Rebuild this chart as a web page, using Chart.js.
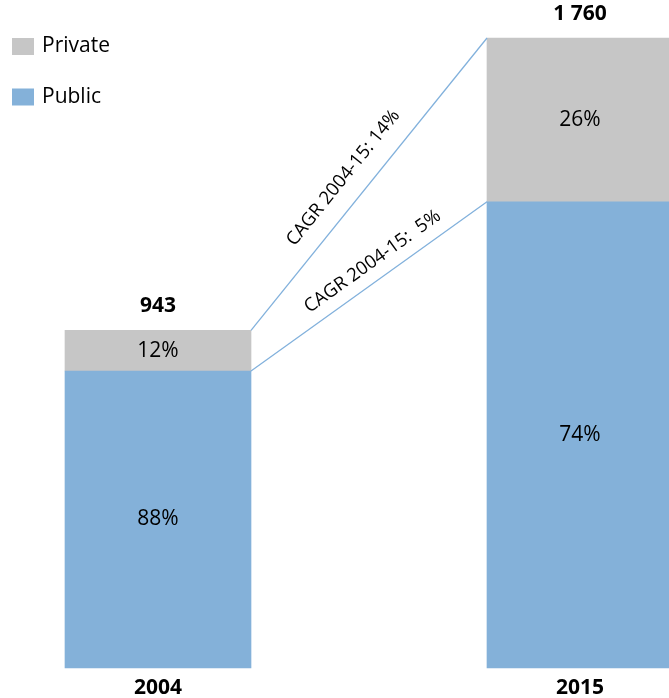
<!DOCTYPE html>
<html>
<head>
<meta charset="utf-8">
<title>Public and private spending, 2004 and 2015</title>
<script src="https://cdn.jsdelivr.net/npm/chart.js@4"></script>
<style>
  html, body { margin: 0; padding: 0; background: #ffffff; }
  #wrap { width: 669px; height: 698px; position: relative; }
</style>
</head>
<body>
<div id="wrap"><canvas id="chart"></canvas></div>
<script>
// Categories and series
const years = ['2004', '2015'];
const publicValues = [829.8, 1302.4];
const privateValues = [113.2, 457.6];
const seriesNames = ['Public', 'Private'];
// Growth annotations: first along the private tops, second along the public tops
const cagrLabels = ['CAGR 2004-15: 14%', 'CAGR 2004-15:  5%'];

const FONT = '"Open Sans", "Noto Sans", "DejaVu Sans", sans-serif';
const BLUE = '#84b1d9';
const GREY = '#c6c6c6';
const LINE = '#82b1dc';

function groupThousands(n) {
  return String(Math.round(n)).replace(/\B(?=(\d{3})+(?!\d))/g, ' ');
}

const overlay = {
  id: 'overlay',
  afterDatasetsDraw(chart) {
    const ctx = chart.ctx;
    const pub = chart.getDatasetMeta(0).data;
    const pri = chart.getDatasetMeta(1).data;
    const pubData = chart.data.datasets[0].data;
    const priData = chart.data.datasets[1].data;

    ctx.save();
    ctx.textAlign = 'center';
    ctx.textBaseline = 'middle';
    ctx.fillStyle = '#000';

    for (let i = 0; i < pub.length; i++) {
      const total = pubData[i] + priData[i];
      // share labels in the middle of each segment
      ctx.font = '21px ' + FONT;
      ctx.fillText(Math.round(priData[i] / total * 100) + '%', pri[i].x, (pri[i].y + pri[i].base) / 2);
      ctx.fillText(Math.round(pubData[i] / total * 100) + '%', pub[i].x, (pub[i].y + pub[i].base) / 2);
      // totals above the stacks
      ctx.font = 'bold 21px ' + FONT;
      ctx.fillText(groupThousands(total), pri[i].x, pri[i].y - 24);
    }

    // connector lines between the stacks, with rotated growth labels
    const connectors = [
      { a: pri[0], b: pri[1], text: cagrLabels[0], t: 0.47, off: 24 },
      { a: pub[0], b: pub[1], text: cagrLabels[1], t: 0.56, off: 18 }
    ];
    connectors.forEach(c => {
      const x0 = c.a.x + c.a.width / 2, y0 = c.a.y;
      const x1 = c.b.x - c.b.width / 2, y1 = c.b.y;
      ctx.beginPath();
      ctx.strokeStyle = LINE;
      ctx.lineWidth = 1.3;
      ctx.moveTo(x0, y0);
      ctx.lineTo(x1, y1);
      ctx.stroke();

      const ang = Math.atan2(y1 - y0, x1 - x0);
      ctx.save();
      ctx.translate(x0 + (x1 - x0) * c.t, y0 + (y1 - y0) * c.t);
      ctx.rotate(ang);
      ctx.font = '18.5px ' + FONT;
      ctx.fillStyle = '#000';
      ctx.fillText(c.text, 0, -c.off);
      ctx.restore();
    });

    // legend, private on top
    const items = [chart.data.datasets[1], chart.data.datasets[0]];
    const rows = [46.5, 97];
    ctx.textAlign = 'left';
    ctx.font = '21px ' + FONT;
    items.forEach((ds, k) => {
      ctx.fillStyle = ds.backgroundColor;
      ctx.fillRect(12, rows[k] - 8.5, 22, 17);
      ctx.fillStyle = '#000';
      ctx.fillText(ds.label, 42, rows[k]);
    });
    ctx.restore();
  }
};

new Chart(document.getElementById('chart'), {
  type: 'bar',
  data: {
    labels: years,
    datasets: [
      { label: seriesNames[0], data: publicValues, backgroundColor: BLUE, barThickness: 186, clip: false },
      { label: seriesNames[1], data: privateValues, backgroundColor: GREY, barThickness: 186, clip: false }
    ]
  },
  options: {
    responsive: true,
    maintainAspectRatio: false,
    animation: false,
    devicePixelRatio: 1,
    layout: { padding: { top: 38, left: 158, right: 89, bottom: 0 } },
    scales: {
      x: {
        stacked: true,
        offset: false,
        grid: { display: false, drawTicks: false },
        border: { display: false },
        ticks: { color: '#000', padding: 7, font: { family: FONT, size: 21, weight: 'bold' } },
        afterFit(scale) { scale.height = 30; }
      },
      y: { stacked: true, display: false, min: 0, max: 1760 }
    },
    plugins: {
      legend: { display: false },
      tooltip: { enabled: false }
    }
  },
  plugins: [overlay]
});
</script>
</body>
</html>
